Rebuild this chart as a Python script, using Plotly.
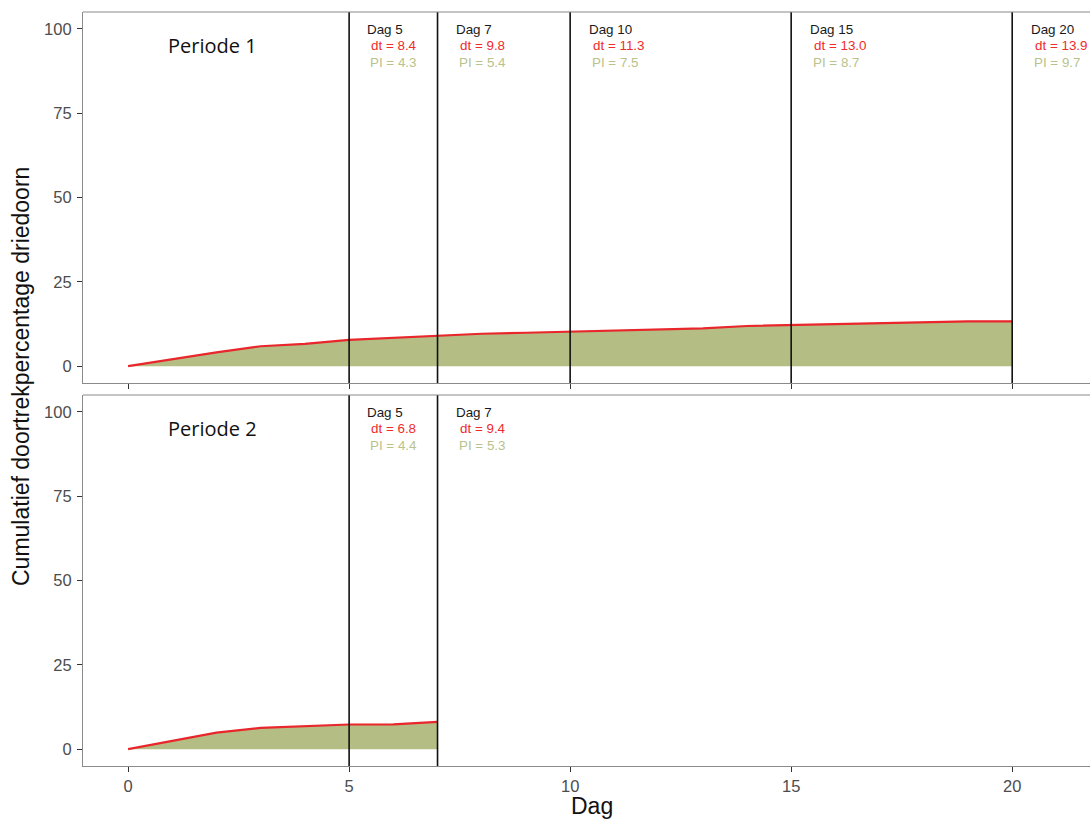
import plotly.graph_objects as go

# Cumulative passage percentage per day, two periods
dagen_p1 = list(range(0, 21))
pct_p1 = [0.0, 2.1, 4.1, 5.9, 6.6, 7.8, 8.4, 9.1, 9.6, 9.9, 10.2,
          10.5, 10.8, 11.2, 11.9, 12.2, 12.4, 12.8, 12.9, 13.3, 13.3]

dagen_p2 = list(range(0, 8))
pct_p2 = [0.0, 2.4, 4.9, 6.3, 6.7, 7.3, 7.35, 8.1]

# Marker days with dt / PI values
markdagen_p1 = [5, 7, 10, 15, 20]
dt_p1 = [8.4, 9.8, 11.3, 13.0, 13.9]
pi_p1 = [4.3, 5.4, 7.5, 8.7, 9.7]

markdagen_p2 = [5, 7]
dt_p2 = [6.8, 9.4]
pi_p2 = [4.4, 5.3]

periodes = ["Periode 1", "Periode 2"]
x_ticks = [0, 5, 10, 15, 20]
y_ticks = [0, 25, 50, 75, 100]

FILL = "#b4be84"
LINE = "#e8262b"
PI_COL = "#b9c28c"
BORDER = "#8a8a8a"
TICKCOL = "#4d4d4d"

W, H = 1090, 819
x0_px, p1_top, p1_bot, p2_top, p2_bot = 83, 12, 383, 395, 766

fig = go.Figure()

panels = [
    (dagen_p1, pct_p1, markdagen_p1, dt_p1, pi_p1, "x", "y"),
    (dagen_p2, pct_p2, markdagen_p2, dt_p2, pi_p2, "x2", "y2"),
]

lab_font = "Liberation Sans"
lab_size = 13.4

for i, (dagen, pct, mdag, dts, pis, xa, ya) in enumerate(panels):
    fig.add_trace(go.Scatter(
        x=dagen, y=pct, mode="lines", fill="tozeroy",
        fillcolor=FILL, line=dict(color=LINE, width=2.2),
        xaxis=xa, yaxis=ya, showlegend=False, hoverinfo="skip"))
    for d, dt, pi in zip(mdag, dts, pis):
        fig.add_shape(type="line", x0=d, x1=d, y0=0, y1=1,
                      xref=xa, yref=f"{ya} domain",
                      line=dict(color="#111111", width=1.6))
        fig.add_annotation(x=d + 0.37, y=100, xref=xa, yref=ya, yshift=-0.5,
                           text=f"Dag {d}", showarrow=False, xanchor="left",
                           yanchor="middle",
                           font=dict(family=lab_font, size=lab_size, color="#1a1a1a"))
        fig.add_annotation(x=d + 0.37, y=100, xref=xa, yref=ya, xshift=4,
                           yshift=-16.5,
                           text=f"dt = {dt:.1f}", showarrow=False, xanchor="left",
                           yanchor="middle",
                           font=dict(family=lab_font, size=lab_size, color="#ee2c2c"))
        fig.add_annotation(x=d + 0.37, y=100, xref=xa, yref=ya, xshift=3,
                           yshift=-33.5,
                           text=f"PI = {pi:.1f}", showarrow=False, xanchor="left",
                           yanchor="middle",
                           font=dict(family=lab_font, size=lab_size, color=PI_COL))
    fig.add_annotation(x=1.92, y=95.2, xref=xa, yref=ya,
                       text=periodes[i], showarrow=False,
                       xanchor="center", yanchor="middle",
                       font=dict(family="Open Sans", size=20, color="#111111"))
    # top border of the panel
    fig.add_shape(type="line", x0=0, x1=1, y0=1, y1=1,
                  xref=f"{xa} domain", yref=f"{ya} domain",
                  line=dict(color=BORDER, width=1.2))

xdom = [x0_px / W, 1.0]
axis_common = dict(showgrid=False, zeroline=False, showline=True,
                   linecolor=BORDER, linewidth=1.2, ticks="outside",
                   ticklen=5, tickcolor="#333333", tickwidth=1.2,
                   tickfont=dict(family="Liberation Sans", size=16.5, color=TICKCOL))

fig.update_layout(
    width=W, height=H,
    margin=dict(l=0, r=0, t=0, b=0),
    plot_bgcolor="white", paper_bgcolor="white",
    xaxis=dict(domain=xdom, range=[-1.02, 21.76], tickvals=x_ticks,
               showticklabels=False, anchor="y", **axis_common),
    yaxis=dict(domain=[1 - p1_bot / H, 1 - p1_top / H], range=[-5, 105],
               tickvals=y_ticks, anchor="x", ticklabelstandoff=2, **axis_common),
    xaxis2=dict(domain=xdom, range=[-1.02, 21.76], tickvals=x_ticks,
                anchor="y2", **axis_common),
    yaxis2=dict(domain=[1 - p2_bot / H, 1 - p2_top / H], range=[-5, 105],
                tickvals=y_ticks, anchor="x2", ticklabelstandoff=2, **axis_common),
)

# axis titles
fig.add_annotation(x=592 / W, y=1 - 806 / H, xref="paper", yref="paper",
                   text="Dag", showarrow=False, xanchor="center", yanchor="middle",
                   font=dict(family="Liberation Sans", size=23, color="#111111"))
fig.add_annotation(x=21 / W, y=1 - 377 / H, xref="paper", yref="paper",
                   text="Cumulatief doortrekpercentage driedoorn", textangle=-90,
                   showarrow=False, xanchor="center", yanchor="middle",
                   font=dict(family="Liberation Sans", size=23, color="#111111"))

fig.write_html("out.html")
